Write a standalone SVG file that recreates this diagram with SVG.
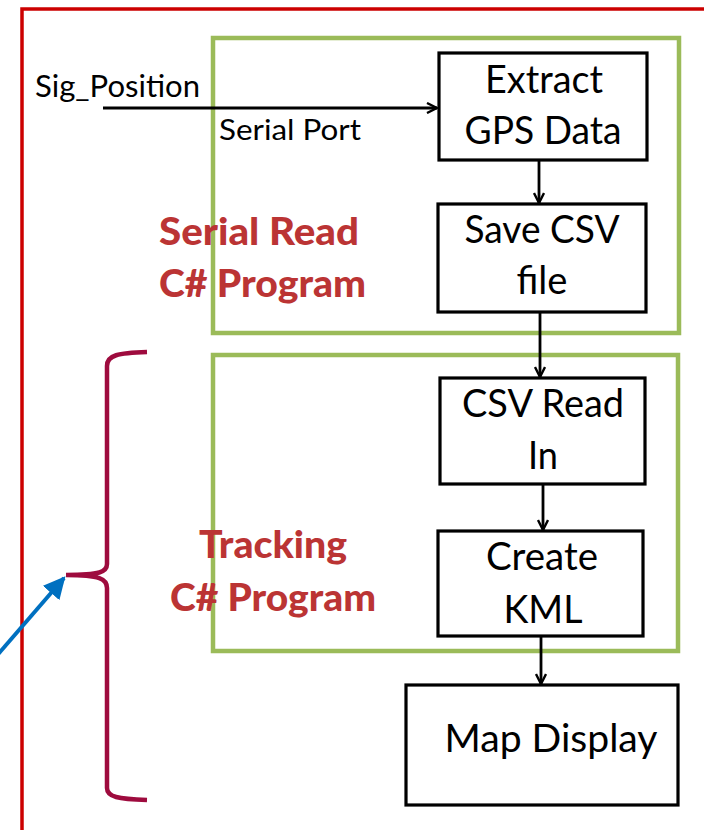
<svg xmlns="http://www.w3.org/2000/svg" width="704" height="830" viewBox="0 0 704 830">
<defs>
<style>
.box{fill:none;stroke:#000;stroke-width:3.2}
.grp{fill:none;stroke:#9bbb59;stroke-width:4.5}
.t{font-family:Lato,"Open Sans",sans-serif;font-size:38px;fill:#000;text-anchor:middle}
.s{font-family:Lato,"Open Sans",sans-serif;fill:#000}
.r{font-family:Lato,"Open Sans",sans-serif;font-weight:900;font-size:38px;fill:#bb3434}
.c{fill:none;stroke:#000;stroke-width:2.8}
</style>
<marker id="ah" viewBox="0 0 12 12" refX="11" refY="6" markerWidth="12" markerHeight="12" markerUnits="userSpaceOnUse" orient="auto">
<path d="M1,1 L11,6 L1,11" fill="none" stroke="#000" stroke-width="2.4"/>
</marker>
<marker id="bh" viewBox="0 0 10 10" refX="9" refY="5" markerWidth="5.5" markerHeight="5.5" orient="auto">
<path d="M0,0 L10,5 L0,10 Z" fill="#0070c0"/>
</marker>
</defs>
<rect width="704" height="830" fill="#fff"/>
<rect id="frame" x="22" y="9" width="720" height="860" fill="none" stroke="#cc0000" stroke-width="3.5"/>
<g id="serial-read-group">
<rect class="grp" x="213" y="38" width="466" height="295"/>
<text class="r" x="159" y="245" textLength="200" lengthAdjust="spacingAndGlyphs">Serial Read</text>
<text class="r" x="159" y="297" textLength="207" lengthAdjust="spacingAndGlyphs">C# Program</text>
</g>
<g id="tracking-group">
<rect class="grp" x="213" y="355" width="465" height="296"/>
<text class="r" x="199" y="558" textLength="148" lengthAdjust="spacingAndGlyphs">Tracking</text>
<text class="r" x="170" y="611" textLength="206" lengthAdjust="spacingAndGlyphs">C# Program</text>
</g>
<g id="brace">
<path d="M147,352 C118,353 107,355 107,366 L107,564 C107,572 100,575 66,575 C100,575 107,579 107,588 L107,788 C107,797 118,799 147,800" fill="none" stroke="#9e0b3e" stroke-width="4.5"/>
</g>
<g id="labels">
<text class="s" x="35" y="97" font-size="31" textLength="165" lengthAdjust="spacingAndGlyphs">Sig_Position</text>
<text class="s" x="219" y="140" font-size="28" textLength="142" lengthAdjust="spacingAndGlyphs">Serial Port</text>
</g>
<g id="extract">
<rect class="box" x="439" y="53" width="208" height="107"/>
<text class="t" x="544" y="93" textLength="118" lengthAdjust="spacingAndGlyphs">Extract</text>
<text class="t" x="543" y="144" textLength="157" lengthAdjust="spacingAndGlyphs">GPS Data</text>
</g>
<g id="save-csv">
<rect class="box" x="438" y="204" width="208" height="108"/>
<text class="t" x="542" y="243" textLength="155" lengthAdjust="spacingAndGlyphs">Save CSV</text>
<text class="t" x="542" y="294" textLength="51" lengthAdjust="spacingAndGlyphs">file</text>
</g>
<g id="csv-read">
<rect class="box" x="440" y="378" width="205" height="106"/>
<text class="t" x="543" y="417" textLength="162" lengthAdjust="spacingAndGlyphs">CSV Read</text>
<text class="t" x="543" y="469" textLength="30" lengthAdjust="spacingAndGlyphs">In</text>
</g>
<g id="create-kml">
<rect class="box" x="438" y="531" width="205" height="105"/>
<text class="t" x="542" y="570" textLength="112" lengthAdjust="spacingAndGlyphs">Create</text>
<text class="t" x="543" y="623" textLength="79" lengthAdjust="spacingAndGlyphs">KML</text>
</g>
<g id="map-display">
<rect class="box" x="406" y="685" width="272" height="120"/>
<text class="t" x="551" y="752" textLength="213" lengthAdjust="spacingAndGlyphs">Map Display</text>
</g>
<g id="connectors">
<line class="c" x1="103" y1="108" x2="437" y2="108" style="stroke-width:3.2" marker-end="url(#ah)"/>
<line class="c" x1="539" y1="160" x2="539" y2="203" marker-end="url(#ah)"/>
<line class="c" x1="540" y1="312" x2="540" y2="377" marker-end="url(#ah)"/>
<line class="c" x1="543" y1="484" x2="543" y2="530" marker-end="url(#ah)"/>
<line class="c" x1="541" y1="636" x2="541" y2="684" marker-end="url(#ah)"/>
<line x1="-6" y1="659" x2="64" y2="578" stroke="#0070c0" stroke-width="4" marker-end="url(#bh)"/>
</g>
</svg>
